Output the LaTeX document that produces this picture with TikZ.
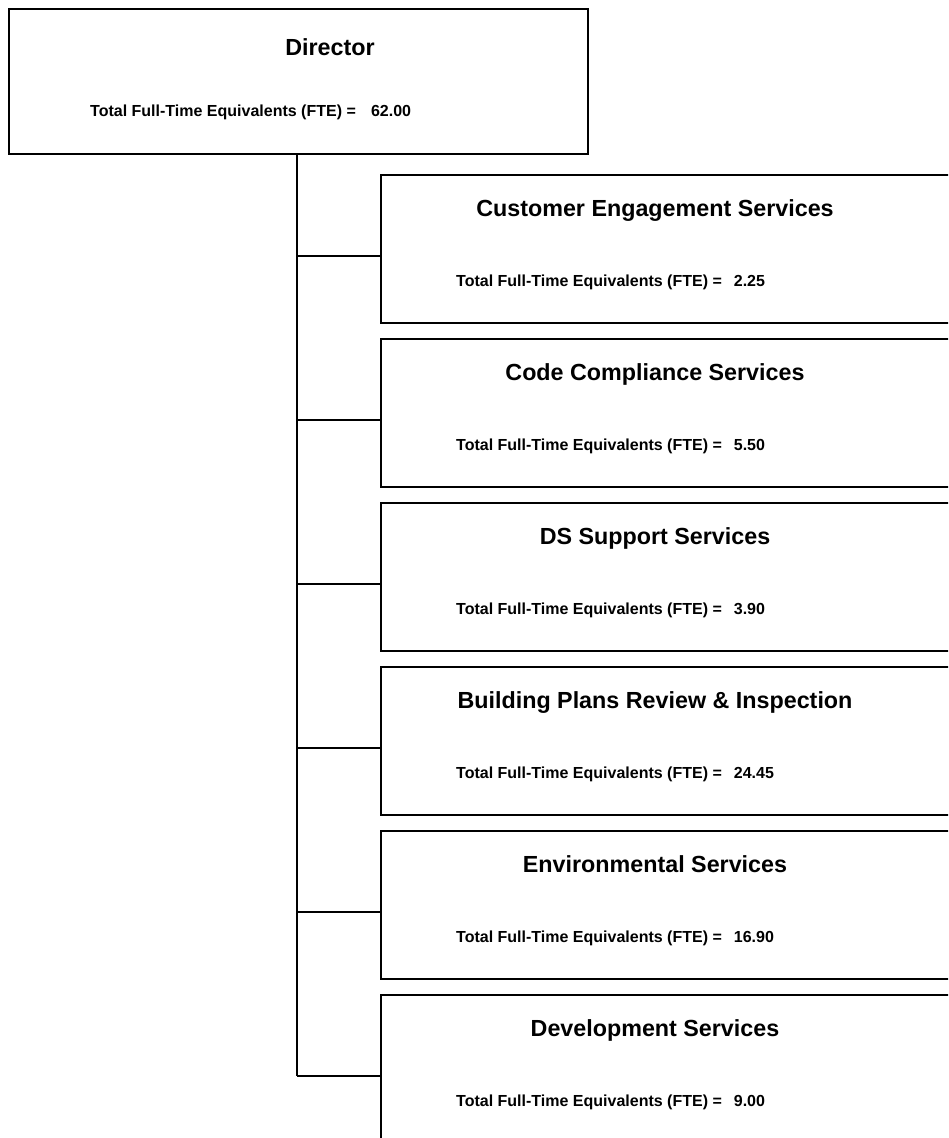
\documentclass[tikz,border=0pt]{standalone}
\usepackage{fontspec}
\setmainfont{Liberation Sans}
\begin{document}
\begin{tikzpicture}[x=1pt,y=-1pt,
  box/.style={draw=black,line width=2.3pt,rectangle,inner sep=0pt,anchor=north west},
  wire/.style={draw=black,line width=2.3pt},
  ttl/.style={anchor=base,inner sep=0pt,font=\fontsize{23.3}{27}\selectfont\bfseries},
  fte/.style={anchor=base west,inner sep=0pt,font=\fontsize{16}{19}\selectfont\bfseries}]
\useasboundingbox (0,0) rectangle (948,1138);
\clip (0,0) rectangle (948,1138);
% director
\node[box,minimum width=579pt,minimum height=145pt] (dir) at (8,8) {};
\node[ttl] (dirt) at (330,55) {Director};
\node[fte] (dirf) at (90,116) {Total Full-Time Equivalents (FTE) =\hspace{0.95em}62.00};
% children
\foreach \i/\t/\v in {1/Customer Engagement Services/2.25,
                      2/Code Compliance Services/5.50,
                      3/DS Support Services/3.90,
                      4/Building Plans Review \& Inspection/24.45,
                      5/Environmental Services/16.90,
                      6/Development Services/9.00}{
  \pgfmathsetmacro{\top}{174+164*(\i-1)}
  \node[box,minimum width=600pt,minimum height=148pt] (c\i) at (380,\top) {};
  \node[ttl] (c\i t) at (655,\top+42) {\t};
  \node[fte] (c\i f) at (456,\top+112) {Total Full-Time Equivalents (FTE) =\hspace{0.75em}\v};
  \coordinate (j\i) at (297,\top+82);
  \draw[wire] (j\i) -- (j\i -| c\i.west);
}
\draw[wire] (dir.south -| j1) -- (j6);
\end{tikzpicture}
\end{document}
